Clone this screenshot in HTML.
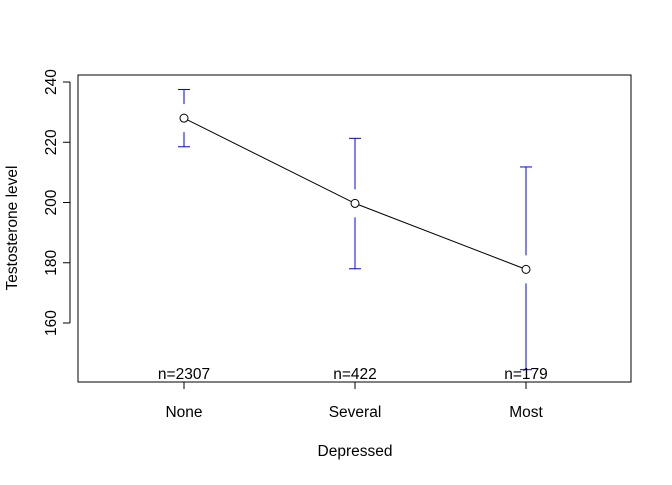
<!DOCTYPE html>
<html><head><meta charset="utf-8"><style>
body{margin:0;background:#fff}
svg text{font-family:"Liberation Sans",Arial,sans-serif;font-size:15.5px;fill:#000}
</style></head><body>
<svg id="chart" width="672" height="480" xmlns="http://www.w3.org/2000/svg">
<rect x="78" y="75" width="553" height="307" fill="none" stroke="#000"/>
<g id="g"></g>
<text x="12" y="228" transform="rotate(-90 12 228)" text-anchor="middle" dy="5">Testosterone level</text>
<text x="355" y="456" text-anchor="middle">Depressed</text>
</svg>
<script>
const categories=["None","Several","Most"];
const means=[228,199.7,177.8];
const upper=[237.5,221.3,211.8];
const lower=[218.5,178,144.5];
const counts=["n=2307","n=422","n=179"];
const yTicks=[160,180,200,220,240];
const NS="http://www.w3.org/2000/svg";
const g=document.getElementById('g');
const y=v=>82+(240-v)*3.0125;
const x=i=>184+i*171;
function mk(t,a,p){const e=document.createElementNS(NS,t);for(const k in a)e.setAttribute(k,a[k]);(p||g).appendChild(e);return e;}
let ax=mk('line',{x1:70,x2:70,y1:y(yTicks[0]),y2:y(yTicks[yTicks.length-1]),stroke:'#000'});


yTicks.forEach(v=>{
 let t=mk('line',{x1:63,x2:70,y1:y(v),y2:y(v),stroke:'#000'});
 
 
 let l=mk('text',{x:56,y:y(v),'text-anchor':'middle',transform:`rotate(-90 56 ${y(v)})`});
 l.textContent=v;
 
 
});
let xa=mk('line',{x1:x(0),x2:x(2),y1:382,y2:382,stroke:'#000'});


categories.forEach((c,i)=>{
 let t=mk('line',{x1:x(i),x2:x(i),y1:382,y2:389,stroke:'#000'});
 
 
 let l=mk('text',{x:x(i),y:417,'text-anchor':'middle'});l.textContent=c;
 
 
});
categories.forEach((c,i)=>{
 const xm=x(i),ym=y(means[i]),yu=y(upper[i]),yl=y(lower[i]);
 const gap=14;
 let b=mk('g',{stroke:'#0000ff','stroke-width':1,fill:'none'});
 
 
 if(ym-gap>yu) mk('line',{x1:xm,x2:xm,y1:yu,y2:ym-gap},b);
 if(ym+gap<yl) mk('line',{x1:xm,x2:xm,y1:ym+gap,y2:yl},b);
 mk('line',{x1:xm-6,x2:xm+6,y1:yu,y2:yu},b);
 mk('line',{x1:xm-6,x2:xm+6,y1:yl,y2:yl},b);
});
let pl=mk('polyline',{points:means.map((m,i)=>x(i)+','+y(m)).join(' '),fill:'none',stroke:'#000'});


means.forEach((m,i)=>{
 let c=mk('circle',{cx:x(i),cy:y(m),r:4,fill:'#fff',stroke:'#000'});
 
 
});
counts.forEach((n,i)=>{
 let t=mk('text',{x:x(i),y:379,'text-anchor':'middle'});t.textContent=n;
 
 
});
</script>
</body></html>
